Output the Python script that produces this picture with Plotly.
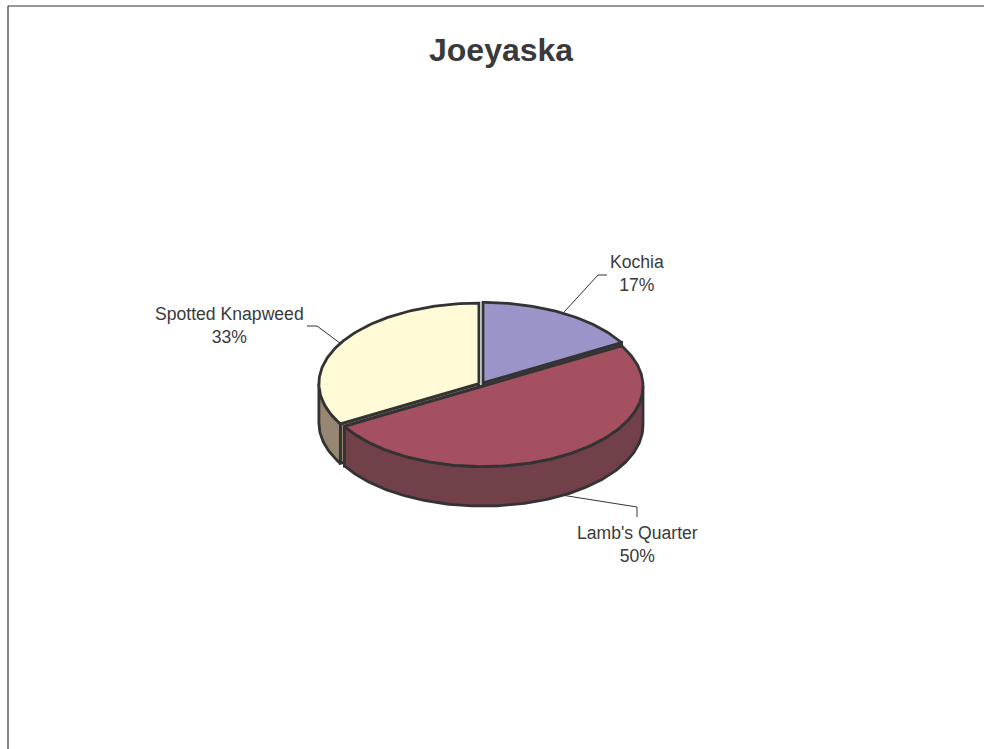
import math
import plotly.graph_objects as go

title = "Joeyaska"
categories = ["Kochia", "Lamb's Quarter", "Spotted Knapweed"]
values = [1, 3, 2]
percent_labels = ["17%", "50%", "33%"]
top_colors = ["#9A94C8", "#A55060", "#FFFBD6"]
side_colors = ["#5E5A7C", "#724049", "#968672"]

INK = "#333333"
TEXT = "#3A3A3A"
CX, CY, RX, RY, DEPTH, EXPLODE = 481.5, 384.5, 160, 80.5, 39.5, 3
leader_elbows = {
    "Kochia": [(598, 275), (607, 275)],
    "Lamb's Quarter": [(637, 507), (637, 517)],
    "Spotted Knapweed": [(317, 326), (307, 326)],
}
label_centers = {
    "Kochia": (637, 273.5),
    "Lamb's Quarter": (637, 544),
    "Spotted Knapweed": (229, 325),
}

total = sum(values)
spans, start = [], 0.0
for v in values:
    end = start + v / total * 360
    spans.append((start, end))
    start = end


def rim(t, ox, oy, dz=0):
    r = math.radians(t)
    return CX + ox + RX * math.sin(r), CY + oy - RY * math.cos(r) + dz


def arc(a, b, ox, oy, dz=0):
    n = max(2, int(abs(b - a)))
    return [rim(a + (b - a) * i / n, ox, oy, dz) for i in range(n + 1)]


def poly(fig, pts, fill, width=2.8):
    xs, ys = zip(*(pts + [pts[0]]))
    fig.add_trace(go.Scatter(x=xs, y=ys, mode="lines", fill="toself", fillcolor=fill,
                             line=dict(color=INK, width=width), hoverinfo="skip",
                             showlegend=False))


fig = go.Figure()
offsets = []
for a, b in spans:
    m = math.radians((a + b) / 2)
    offsets.append((EXPLODE * math.sin(m), -EXPLODE * 0.6 * math.cos(m)))

for i in [0, 2, 1]:
    a, b = spans[i]
    ox, oy = offsets[i]
    apex = (CX + ox, CY + oy)
    # cut faces that look toward the viewer
    for t in (a, b):
        if 0 < t % 360 < 180 or t % 360 == 0:
            continue
        p = rim(t, ox, oy)
        q = rim(t, ox, oy, DEPTH)
        poly(fig, [apex, p, q, (apex[0], apex[1] + DEPTH)], side_colors[i])
    if i == 0:
        p = rim(b, ox, oy)
        q = rim(b, ox, oy, DEPTH)
        poly(fig, [apex, p, q, (apex[0], apex[1] + DEPTH)], side_colors[i])
    # outer wall (front half only)
    lo, hi = max(a, 90), min(b, 270)
    if lo < hi:
        poly(fig, arc(lo, hi, ox, oy) + arc(hi, lo, ox, oy, DEPTH), side_colors[i])
    poly(fig, [apex] + arc(a, b, ox, oy), top_colors[i])

# leader lines, anchored on each slice's outer edge
for i, name in enumerate(categories):
    a, b = spans[i]
    m = (a + b) / 2
    ox, oy = offsets[i]
    dz = DEPTH if name == "Lamb's Quarter" else 0
    x0, y0 = rim(m, ox, oy, dz)
    pts = [(x0, y0)] + leader_elbows[name]
    fig.add_trace(go.Scatter(x=[p[0] for p in pts], y=[p[1] for p in pts], mode="lines",
                             line=dict(color=INK, width=1), hoverinfo="skip", showlegend=False))
    lx, ly = label_centers[name]
    fig.add_annotation(x=lx, y=ly, xref="x", yref="y", showarrow=False, align="center",
                       text=f"{name}<br>{percent_labels[i]}",
                       font=dict(family="Liberation Sans", size=17.6, color=TEXT))

fig.add_annotation(x=501, y=50, xref="x", yref="y", showarrow=False, text=f"<b>{title}</b>",
                   font=dict(family="Liberation Sans", size=32, color=TEXT))

# chart frame, open at the right and bottom page edges
fig.add_shape(type="line", x0=8, y0=6, x1=984, y1=6, xref="x", yref="y", line=dict(color=INK, width=1.2))
fig.add_shape(type="line", x0=8, y0=6, x1=8, y1=749, xref="x", yref="y", line=dict(color=INK, width=1.2))

fig.update_layout(
    width=984, height=749, margin=dict(l=0, r=0, t=0, b=0), autosize=False,
    paper_bgcolor="white", plot_bgcolor="white", showlegend=False,
    xaxis=dict(range=[0, 984], visible=False, fixedrange=True),
    yaxis=dict(range=[749, 0], visible=False, fixedrange=True),
)
fig.write_html("out.html", config={"displayModeBar": False},
               post_script="document.body.style.margin='0';document.documentElement.style.overflow='hidden';")
